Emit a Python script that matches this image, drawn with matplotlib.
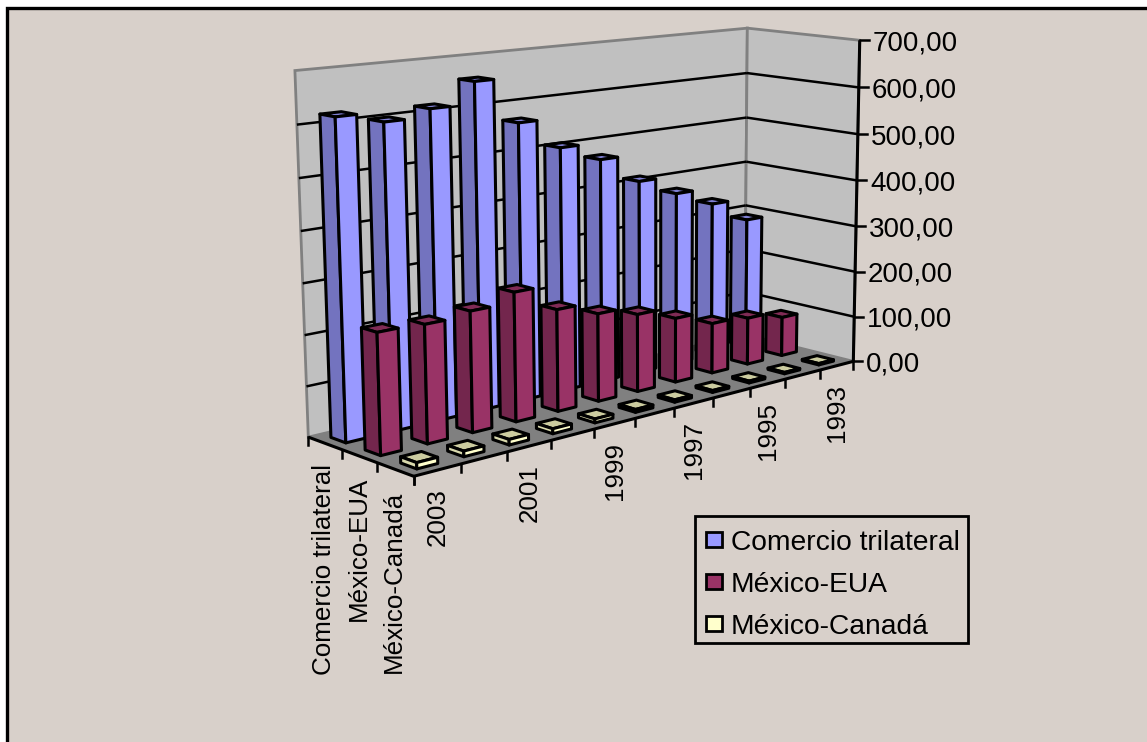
import numpy as np
import matplotlib
matplotlib.use('Agg')
import matplotlib.pyplot as plt
from matplotlib.patches import Polygon, Rectangle

plt.rcParams['font.family'] = ['Liberation Sans', 'DejaVu Sans']

years = [2003, 2002, 2001, 2000, 1999, 1998, 1997, 1996, 1995, 1994, 1993]
year_labels = ['2003', '2001', '1999', '1997', '1995', '1993']
series_names = ['Comercio trilateral', 'México-EUA', 'México-Canadá']
trilateral = [620, 600, 615, 658, 567, 506, 470, 412, 373, 337, 288]
mexico_eua = [235, 232, 240, 260, 208, 182, 163, 137, 108, 102, 86]
mexico_canada = [12, 11, 11, 10, 8, 6, 5, 4, 4, 3, 3]
series_values = [trilateral, mexico_eua, mexico_canada]
value_ticks = [0, 100, 200, 300, 400, 500, 600, 700]

bg = '#D8D0CA'
face_colors = ['#9999FF', '#993366', '#FFFFCC']
side_colors = ['#7373BF', '#73264D', '#D9D9AD']
top_colors = ['#8080D4', '#802B55', '#CCCCA0']

# box corners (slot fraction, series fraction, value) and where they land on the canvas
box_pts = [(0, 0, 0), (0, 1, 0), (1, 1, 0), (1, 0, 0), (0, 0, 700), (1, 0, 700), (1, 1, 700)]
canvas_pts = [(307, 436), (415, 477), (852, 362), (746, 334), (295, 71), (747, 29), (860, 39)]


def fit_projection(src, dst):
    rows = []
    for (x, y, z), (u, v) in zip(src, dst):
        p = [x, y, z / 700, 1]
        rows.append(p + [0, 0, 0, 0] + [-u * c for c in p])
        rows.append([0, 0, 0, 0] + p + [-v * c for c in p])
    return np.linalg.svd(np.array(rows, dtype=float))[2][-1].reshape(3, 4)


P = fit_projection(box_pts, canvas_pts)


def proj(x, y, z):
    q = P @ np.array([x, y, z / 700, 1.0])
    return q[0] / q[2], q[1] / q[2]


def face(ax, corners, color, lw=2.2, zorder=2):
    ax.add_patch(Polygon([proj(*c) for c in corners], closed=True, facecolor=color,
                         edgecolor='black', linewidth=lw, joinstyle='round', zorder=zorder))


def segment(ax, a, b, color='black', lw=1.8, zorder=1):
    pa, pb = proj(*a), proj(*b)
    ax.plot([pa[0], pb[0]], [pa[1], pb[1]], color=color, lw=lw, zorder=zorder,
            solid_capstyle='butt')


fig = plt.figure(figsize=(11.47, 7.42), dpi=100, facecolor='white')
ax = fig.add_axes([0, 0, 1, 1])
ax.set_xlim(0, 1147)
ax.set_ylim(742, 0)
ax.axis('off')

# chart area, its right and bottom edges run off the canvas
ax.add_patch(Rectangle((7, 8), 1160, 760, facecolor=bg, edgecolor='black', linewidth=2.4, zorder=0))

# walls and floor
wall_edge = '#808080'
ax.add_patch(Polygon([proj(0, 0, 0), proj(1, 0, 0), proj(1, 0, 700), proj(0, 0, 700)],
                     facecolor='#C0C0C0', edgecolor=wall_edge, linewidth=2, zorder=0.5))
ax.add_patch(Polygon([proj(1, 0, 0), proj(1, 1, 0), proj(1, 1, 700), proj(1, 0, 700)],
                     facecolor='#C0C0C0', edgecolor=wall_edge, linewidth=2, zorder=0.5))
ax.add_patch(Polygon([proj(0, 0, 0), proj(0, 1, 0), proj(1, 1, 0), proj(1, 0, 0)],
                     facecolor='#808080', edgecolor='none', zorder=0.6))

# gridlines on both walls
for v in value_ticks[1:-1]:
    segment(ax, (0, 0, v), (1, 0, v))
    segment(ax, (1, 0, v), (1, 1, v))

# bars, back row first and far end first so nearer ones cover them
n = len(years)
bar_w = 0.44
order = 2.0
for j, values in enumerate(series_values):
    y0 = (j + 0.5 - bar_w / 2) / 3
    y1 = (j + 0.5 + bar_w / 2) / 3
    for i in range(n - 1, -1, -1):
        x0 = (i + 0.5 - bar_w / 2) / n
        x1 = (i + 0.5 + bar_w / 2) / n
        h = values[i]
        face(ax, [(x0, y0, h), (x1, y0, h), (x1, y1, h), (x0, y1, h)], top_colors[j], zorder=order)
        face(ax, [(x0, y0, 0), (x0, y1, 0), (x0, y1, h), (x0, y0, h)], side_colors[j], zorder=order)
        face(ax, [(x0, y1, 0), (x1, y1, 0), (x1, y1, h), (x0, y1, h)], face_colors[j], zorder=order)
        order += 0.01

# axis lines and ticks
segment(ax, (0, 0, 0), (0, 1, 0), lw=2.2, zorder=4)
segment(ax, (0, 1, 0), (1, 1, 0), lw=2.2, zorder=4)
segment(ax, (1, 1, 0), (1, 1, 700), lw=2.2, zorder=4)

for i in range(n + 1):
    u, v = proj(i / n, 1, 0)
    ax.plot([u, u], [v, v + 8], color='black', lw=1.8, zorder=4)
for j in range(4):
    u, v = proj(0, j / 3, 0)
    ax.plot([u, u], [v, v + 8], color='black', lw=1.8, zorder=4)
for t in value_ticks:
    u, v = proj(1, 1, t)
    ax.plot([u, u + 9], [v, v], color='black', lw=1.8, zorder=4)
    ax.text(u + 13, v, f'{t},00', fontsize=20, ha='left', va='center_baseline',
            color='black', zorder=5)

# rotated category labels
for k, label in enumerate(year_labels):
    u, v = proj((2 * k + 0.5) / n, 1, 0)
    ax.text(u, v + 18, label, rotation=90, fontsize=18.7, ha='center', va='top', zorder=5)
for j, label in enumerate(series_names):
    u, v = proj(0, (j + 0.5) / 3, 0)
    ax.text(u - 1, v + 21, label, rotation=90, fontsize=18.7, ha='center', va='top', zorder=5)

# legend box
ax.add_patch(Rectangle((695, 516), 273, 127, facecolor=bg, edgecolor='black', linewidth=2, zorder=5))
for j, label in enumerate(series_names):
    yc = 539.5 + j * 42
    ax.add_patch(Rectangle((706, yc - 7.5), 16, 15, facecolor=face_colors[j], edgecolor='black',
                           linewidth=2, zorder=6))
    ax.text(731, yc, label, fontsize=20.3, ha='left', va='center_baseline', zorder=6)

fig.savefig('out.png', dpi=100, facecolor='white')
